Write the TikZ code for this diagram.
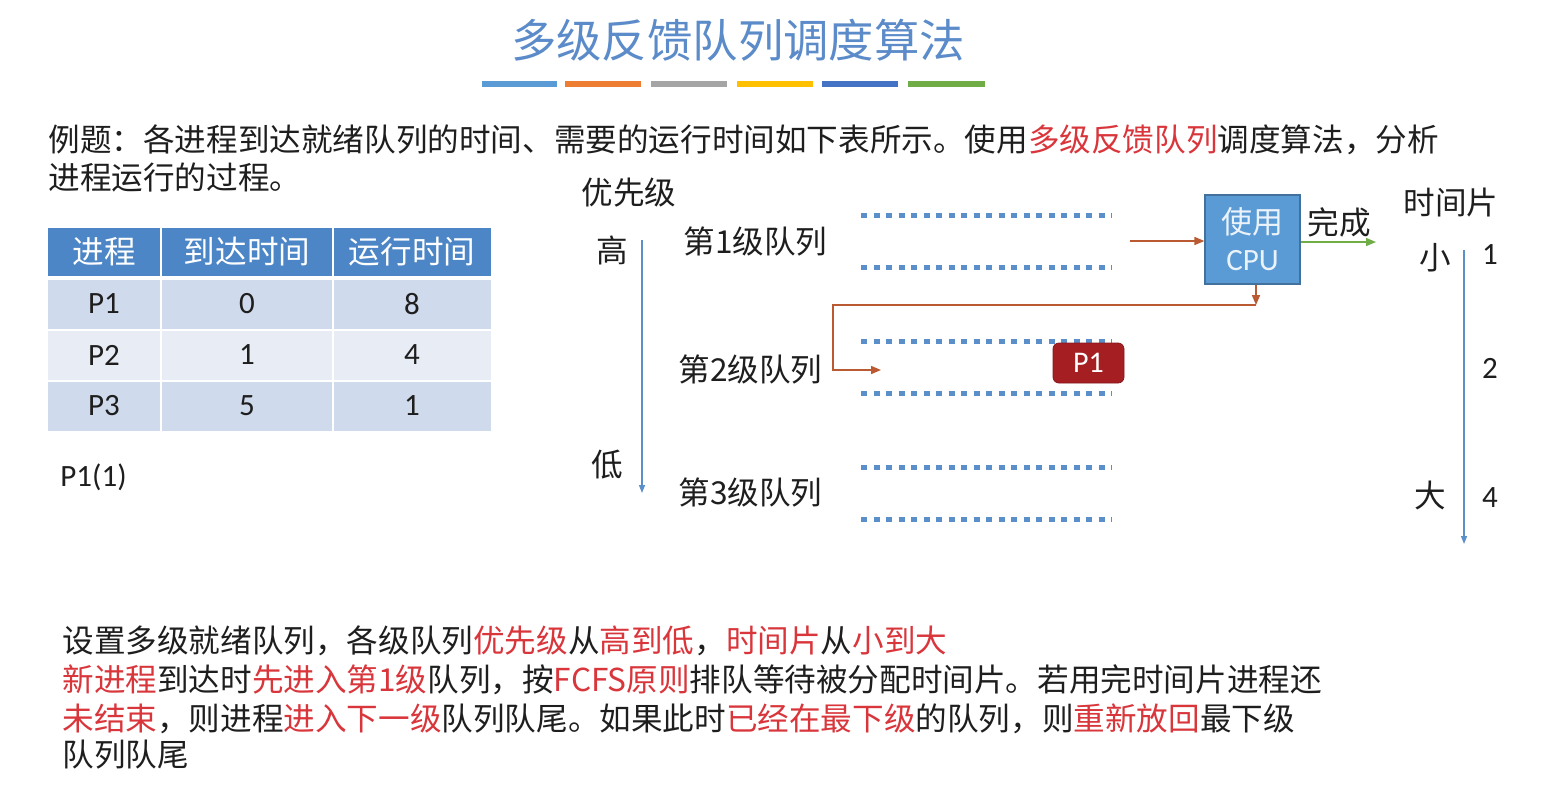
\documentclass[tikz,border=0pt]{standalone}
\usepackage{fontspec}
\setmainfont{Noto Sans CJK SC}
\newfontfamily\lat{Carlito}
\usetikzlibrary{arrows.meta}
\definecolor{ink}{HTML}{1E1E1E}
\definecolor{hired}{HTML}{D9363C}
\definecolor{titleblue}{HTML}{5B8BC9}
\definecolor{hdrblue}{HTML}{4D86C6}
\definecolor{rowdark}{HTML}{CFDAEC}
\definecolor{rowlight}{HTML}{E8EDF5}
\definecolor{slotblue}{HTML}{5B8FC9}
\definecolor{cpufill}{HTML}{5B9BD5}
\definecolor{cpuedge}{HTML}{41719C}
\definecolor{flowbrown}{HTML}{B95A32}
\definecolor{donegreen}{HTML}{70AD47}
\definecolor{jobred}{HTML}{A51E22}
\definecolor{barA}{HTML}{5B9BD5}
\definecolor{barB}{HTML}{ED7D31}
\definecolor{barC}{HTML}{A5A5A5}
\definecolor{barD}{HTML}{FFC000}
\definecolor{barE}{HTML}{4472C4}
\definecolor{barF}{HTML}{70AD47}
\newcommand{\hl}[1]{\textcolor{hired}{#1}}

\begin{document}
\begin{tikzpicture}[x=0.5pt,y=-0.5pt,
  txt/.style={font=\fontsize{15.8}{19}\selectfont, text=ink, inner sep=0pt},
  num/.style={font=\lat\fontsize{15.5}{18}\selectfont, text=ink, inner sep=0pt},
  slot/.style={draw=slotblue, line width=2.5pt, dash pattern=on 3pt off 3.25pt},
  axis/.style={draw=slotblue, line width=0.7pt, -{Triangle[length=4pt,width=3pt]}},
  flow/.style={draw=flowbrown, line width=0.8pt, -{Triangle[length=5pt,width=4pt]}}]
  \useasboundingbox (0,0) rectangle (1545,788);

  % title
  \node[font=\fontsize{22.7}{26}\selectfont, text=titleblue, inner sep=0pt] (title) at (738,40) {多级反馈队列调度算法};
  \foreach \xa/\xb/\c in {482/557/barA, 565/641/barB, 651/727/barC, 737/813/barD, 822/898/barE, 908/985/barF}
    \fill[\c] (\xa,81) rectangle (\xb,87);

  % question
  \node[txt, anchor=west] (task1) at (48,140) {例题：各进程到达就绪队列的时间、需要的运行时间如下表所示。使用\hl{多级反馈队列}调度算法，分析};
  \node[txt, anchor=west] (task2) at (48,177) {进程运行的过程。};

  % table
  \foreach \xa/\xb in {48/160, 162/332, 334/491} {
    \fill[hdrblue] (\xa,228) rectangle (\xb,276);
    \fill[rowdark] (\xa,280) rectangle (\xb,329);
    \fill[rowlight] (\xa,331) rectangle (\xb,380);
    \fill[rowdark] (\xa,382) rectangle (\xb,431);
  }
  \node[txt, text=white] (h1) at (104,252) {进程};
  \node[txt, text=white] (h2) at (247,252) {到达时间};
  \node[txt, text=white] (h3) at (412,252) {运行时间};
  \node[num] (p1) at (104,304) {P1};
  \node[num] (a1) at (247,304) {0};
  \node[num] (r1) at (412,304) {8};
  \node[num] (p2) at (104,355) {P2};
  \node[num] (a2) at (247,355) {1};
  \node[num] (r2) at (412,355) {4};
  \node[num] (p3) at (104,406) {P3};
  \node[num] (a3) at (247,406) {5};
  \node[num] (r3) at (412,406) {1};
  \node[num, anchor=west] (trace) at (60,477) {P1(1)};

  % priority axis
  \node[txt] (prio) at (629,193) {优先级};
  \node[txt] (high) at (612,250) {高};
  \node[txt] (low) at (607,465) {低};
  \coordinate (prtop) at (642,240);
  \coordinate (prbot) at (642,493);
  \draw[axis] (prtop) -- (prbot);

  % queues
  \node[txt, anchor=west] (q1) at (683,241) {第1级队列};
  \node[txt, anchor=west] (q2) at (678,369) {第2级队列};
  \node[txt, anchor=west] (q3) at (678,492) {第3级队列};
  \foreach \y in {215,267,341,393,467,519}
    \draw[slot] (861,\y) -- (1112,\y);

  % CPU
  \node[draw=cpuedge, fill=cpufill, line width=0.6pt, minimum width=47.5pt, minimum height=44.5pt,
    align=center, font=\fontsize{15.5}{18.5}\selectfont, text=white!88!cpufill] (cpu) at (1252.5,239.5)
    {使用\\{\lat CPU}};
  \node[txt] (done) at (1339,222) {完成};
  \coordinate (out) at (1376,242);
  \draw[flow, draw=donegreen] (cpu.east |- out) -- (out);
  \coordinate (q1out) at (1130,241);
  \draw[flow] (q1out) -- (cpu.west |- q1out);
  \coordinate (back) at (1256,305);
  \coordinate (bend) at (833,305);
  \coordinate (q2in) at (881,370);
  \draw[flow] (cpu.south -| back) -- (back);
  \draw[flow] (back) -- (bend) |- (q2in);

  % waiting process
  \node[draw=jobred!80!black, fill=jobred, rounded corners=3pt, minimum width=35.5pt, minimum height=20pt,
    font=\lat\fontsize{15}{18}\selectfont, text=white, inner sep=0pt] (job) at (1088.5,363) {P1};

  % time slice axis
  \node[txt] (slice) at (1451,203) {时间片};
  \node[txt] (small) at (1435,258) {小};
  \node[txt] (big) at (1430,495) {大};
  \node[num] (t1) at (1490,255) {1};
  \node[num] (t2) at (1490,368) {2};
  \node[num] (t4) at (1490,498) {4};
  \coordinate (sltop) at (1464,250);
  \coordinate (slbot) at (1464,544);
  \draw[axis] (sltop) -- (slbot);

  % rules
  \node[txt, anchor=west] (rule1) at (62,641) {设置多级就绪队列，各级队列\hl{优先级}从\hl{高到低}，\hl{时间片}从\hl{小到大}};
  \node[txt, anchor=west] (rule2) at (62,680) {\hl{新进程}到达时\hl{先进入第1级}队列，按\hl{FCFS原则}排队等待被分配时间片。若用完时间片进程还};
  \node[txt, anchor=west] (rule3) at (62,719) {\hl{未结束}，则进程\hl{进入下一级}队列队尾。如果此时\hl{已经在最下级}的队列，则\hl{重新放回}最下级};
  \node[txt, anchor=west] (rule4) at (62,755) {队列队尾};
\end{tikzpicture}
\end{document}
